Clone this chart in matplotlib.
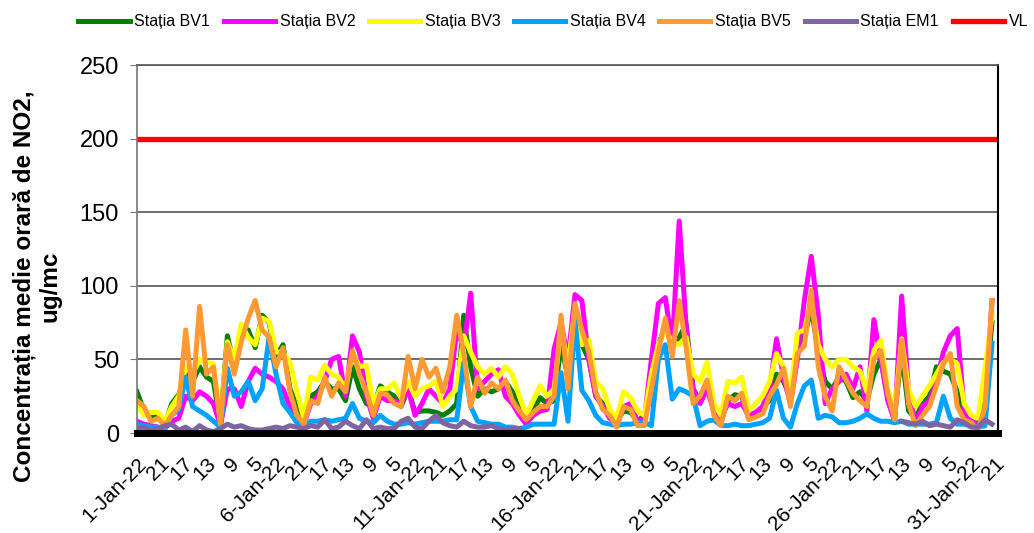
import numpy as np
import matplotlib
matplotlib.use('Agg')
import matplotlib.pyplot as plt

plt.rcParams['font.family'] = ['Liberation Sans', 'DejaVu Sans']

# hourly NO2 for Jan 2022, every 6 hours (00, 06, 12, 18 each day)
step = 6
n_hours = 744

bv1 = [28, 15, 10, 12,  6, 20, 26, 40,  35, 45, 38, 35,  6, 66, 45, 65,  70, 58, 80, 75,
       52, 60, 30, 18,  8, 25, 28, 35,  30, 30, 22, 45,  30, 20, 18, 32,  28, 25, 18, 30,
       14, 15, 15, 14,  12, 15, 20, 80,  45, 25, 30, 28,  30, 35, 28, 18,  8, 16, 24, 20,
       22, 60, 38, 80,  60, 50, 25, 20,  14, 8, 15, 14,  8, 12, 25, 60,  72, 60, 65, 74,
       30, 22, 35, 16,  8, 22, 26, 25,  10, 12, 18, 22,  40, 35, 25, 60,  65, 85, 55, 35,
       30, 38, 35, 24,  28, 22, 40, 50,  25, 12, 55, 15,  10, 20, 25, 45,  42, 40, 28, 12,
       8, 6, 25, 75]
bv2 = [8, 6, 5, 4,  3, 8, 10, 25,  22, 28, 25, 20,  5, 30, 30, 18,  35, 44, 40, 38,
       35, 30, 18, 10,  6, 20, 25, 35,  50, 52, 25, 66,  55, 25, 10, 25,  22, 22, 20, 30,
       12, 20, 30, 25,  20, 30, 70, 58,  95, 30, 35, 40,  43, 25, 20, 12,  6, 12, 15, 16,
       57, 75, 50, 94,  90, 50, 25, 18,  10, 6, 18, 20,  8, 10, 50, 88,  92, 60, 144, 72,
       30, 20, 30, 15,  10, 20, 18, 20,  12, 14, 18, 30,  64, 38, 20, 50,  90, 120, 80, 20,
       30, 35, 40, 30,  45, 15, 77, 50,  22, 8, 93, 28,  7, 18, 22, 35,  55, 66, 71, 15,
       8, 5, 15, 90]
bv3 = [20, 12, 14, 14,  8, 18, 25, 45,  40, 50, 48, 47,  8, 62, 50, 74,  65, 60, 78, 76,
       55, 55, 48, 28,  10, 38, 36, 46,  40, 38, 30, 55,  45, 46, 20, 30,  30, 34, 24, 35,
       25, 30, 32, 35,  18, 25, 30, 66,  55, 45, 40, 44,  38, 45, 40, 25,  12, 22, 32, 25,
       30, 72, 45, 85,  60, 63, 35, 30,  16, 10, 28, 24,  15, 12, 40, 60,  70, 62, 60, 65,
       40, 35, 48, 20,  12, 35, 34, 38,  15, 20, 25, 35,  54, 45, 25, 68,  70, 90, 60, 50,
       45, 50, 50, 45,  42, 28, 56, 63,  30, 15, 64, 30,  18, 25, 32, 40,  48, 50, 47, 20,
       12, 10, 44, 80]
bv4 = [6, 5, 4, 4,  3, 12, 16, 38,  18, 15, 12, 8,  4, 44, 25, 28,  35, 22, 30, 65,
       40, 20, 14, 7,  6, 8, 8, 9,  8, 9, 10, 20,  10, 8, 7, 12,  8, 6, 6, 7,
       6, 7, 8, 8,  8, 9, 9, 48,  18, 8, 7, 6,  6, 4, 4, 3,  4, 6, 6, 6,
       6, 41, 8, 77,  29, 22, 12, 7,  6, 5, 6, 6,  7, 7, 5, 50,  60, 23, 30, 28,
       25, 5, 8, 9,  5, 5, 6, 5,  5, 6, 7, 10,  29, 10, 4, 20,  32, 36, 10, 12,
       11, 7, 7, 8,  10, 13, 10, 8,  8, 7, 8, 6,  6, 6, 6, 7,  25, 10, 6, 6,
       5, 4, 5, 61]
bv5 = [22, 18, 8, 10,  5, 12, 18, 70,  25, 86, 40, 45,  6, 60, 40, 62,  78, 90, 70, 65,
       45, 58, 28, 12,  6, 22, 20, 38,  25, 34, 28, 56,  40, 28, 12, 27,  26, 20, 18, 52,
       30, 50, 38, 44,  28, 45, 80, 54,  18, 38, 27, 34,  30, 36, 22, 15,  9, 14, 18, 18,
       25, 80, 30, 88,  70, 55, 28, 16,  12, 4, 18, 16,  5, 5, 30, 55,  78, 52, 90, 58,
       20, 25, 36, 12,  5, 25, 22, 27,  9, 11, 13, 25,  33, 44, 18, 54,  59, 97, 45, 25,
       15, 45, 36, 27,  22, 18, 50, 56,  27, 9, 63, 20,  5, 12, 18, 32,  47, 54, 18, 9,
       7, 2, 18, 90]
em1_start = [3, 4, 2, 3,  5, 6, 2, 4,  1, 5, 2, 1,  3, 6, 4, 5,  3, 2, 2, 3,
             4, 3, 5, 4,  3, 5, 4, 9,  3, 4, 8, 5,  3, 9, 3, 4,  3, 3, 8, 10,
             4, 3, 8, 12,  7, 5, 4, 8,  5, 4, 4, 5,  3, 2, 3, 3]
em1_end = [8, 7, 6, 8, 5, 6, 5, 4, 9, 7, 4, 4, 9, 6]
em1 = em1_start + [np.nan] * (124 - len(em1_start) - len(em1_end)) + em1_end
vl = 200

series = [
    ('Stația BV1', bv1, '#007F00'),
    ('Stația BV2', bv2, '#FF00FF'),
    ('Stația BV3', bv3, '#FFFF00'),
    ('Stația BV4', bv4, '#00A2FF'),
    ('Stația BV5', bv5, '#FF9933'),
    ('Stația EM1', em1, '#8064A2'),
]

# category labels like the Excel sheet: date on first hour, then hour numbers
cat_labels = []
for day in range(1, 32):
    for h in range(24):
        cat_labels.append('%d-Jan-22' % day if h == 0 else str(h + 1))

fig = plt.figure(figsize=(10.34, 5.33), dpi=100)
ax = fig.add_axes([0.1325, 0.1876, 0.8325, 0.6904])

hours = np.arange(0, n_hours, step)
for name, vals, col in series:
    ax.plot(hours, vals, color=col, lw=3.6, label=name, solid_joinstyle='round')
ax.plot([0, n_hours - 1], [vl, vl], color='#FF0000', lw=3.8, label='VL')

ax.set_xlim(0, n_hours - 1)
ax.set_ylim(0, 250)
ax.set_yticks([0, 50, 100, 150, 200, 250])
ax.yaxis.grid(True, color='#555555', lw=1.2)
ax.set_axisbelow(True)

tick_pos = np.arange(0, n_hours, 20)
ax.set_xticks(tick_pos)
ax.set_xticklabels([cat_labels[i] for i in tick_pos], rotation=45, ha='right',
                   rotation_mode='anchor', fontsize=15)
ax.tick_params(axis='x', length=0, pad=15)
ax.tick_params(axis='y', labelsize=17, length=5, color='#777777', pad=8)

ax.spines['bottom'].set_linewidth(5)
ax.spines['bottom'].set_color('black')
ax.spines['left'].set_color('#777777')
ax.spines['left'].set_linewidth(1.2)
ax.spines['right'].set_color('black')
ax.spines['right'].set_linewidth(1.5)
ax.spines['top'].set_color('#555555')
ax.spines['top'].set_linewidth(1.2)

ax.set_ylabel('Concentrația medie orară de NO2,\nug/mc', fontsize=17.5,
              fontweight='bold', linespacing=1.1)
ax.yaxis.set_label_coords(-0.088, 0.40)

fig.legend(loc='center', bbox_to_anchor=(0.535, 0.959), ncol=7, frameon=False,
           fontsize=11.5, handlelength=3.2, handletextpad=0.3, columnspacing=0.85)

fig.savefig('out.png', dpi=100)
